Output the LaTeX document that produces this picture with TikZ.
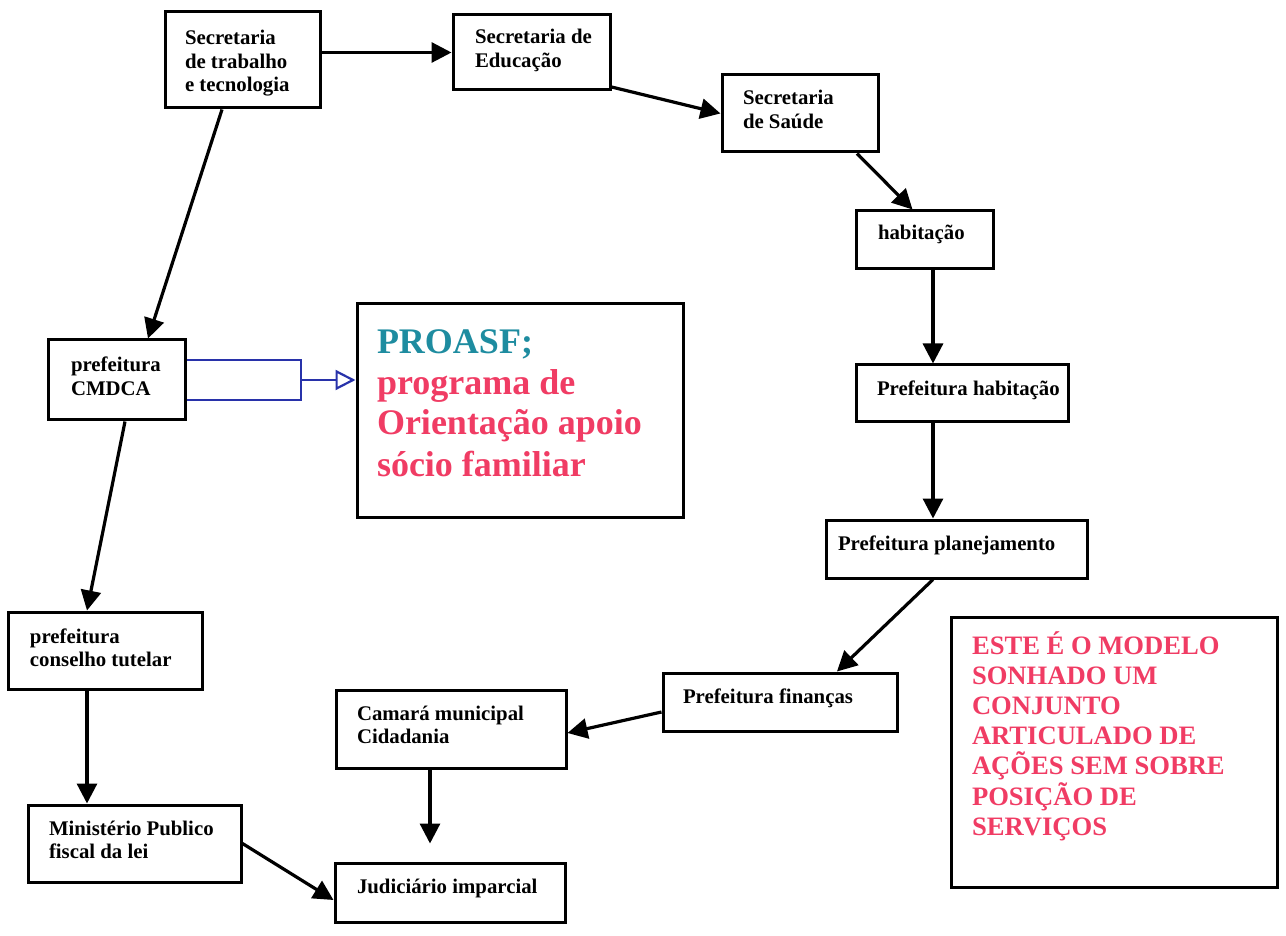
\documentclass[tikz,border=0pt]{standalone}
\usepackage{fontspec}
\setmainfont{Liberation Serif}
\usetikzlibrary{arrows.meta,calc}
\definecolor{proasfteal}{RGB}{30,140,160}
\definecolor{sonhored}{RGB}{240,60,100}
\definecolor{barblue}{RGB}{40,50,170}
% width, height, indent, first baseline, text
\newcommand{\boxtext}[5]{\parbox[c][#2][t]{#1}{\raggedright\leftskip=#3\relax\rule{0pt}{#4}#5}}

\begin{document}
\begin{tikzpicture}[x=0.5pt,y=-0.5pt,
	box/.style={draw, line width=1.5pt, inner sep=0pt, font=\fontsize{10.4}{11.75}\selectfont\bfseries},
	arr/.style={line width=1.6pt, -{Triangle[length=10pt,width=10pt]}},
	bluebar/.style={draw=barblue, line width=1.1pt}]

\useasboundingbox (0,0) rectangle (1286,936);

% left column
\node[box] (trab) at (242.5,60) {\boxtext{77.5pt}{48pt}{10pt}{16.5pt}{Secretaria\\de trabalho\\e tecnologia}};
\node[box] (cmdca) at (116.5,380) {\boxtext{68.5pt}{40pt}{11.5pt}{16pt}{prefeitura\\CMDCA}};
\node[box] (conselho) at (105,650.5) {\boxtext{97pt}{38.5pt}{11pt}{15.5pt}{prefeitura\\conselho tutelar}};
\node[box] (minist) at (134.5,843.5) {\boxtext{106.5pt}{38.5pt}{10.5pt}{15pt}{Ministério Publico\\fiscal da lei}};

% top and right
\node[box] (edu) at (531.5,52.5) {\boxtext{78.5pt}{37.5pt}{11pt}{14.5pt}{Secretaria de\\Educação}};
\node[box] (saude) at (800,113.5) {\boxtext{78pt}{38.5pt}{10.5pt}{15pt}{Secretaria\\de Saúde}};
\node[box] (habit) at (924.5,240) {\boxtext{68.5pt}{29pt}{11pt}{14.5pt}{habitação}};
\node[box] (prefhab) at (962,393.5) {\boxtext{106pt}{28.5pt}{10.5pt}{15pt}{Prefeitura habitação}};
\node[box] (plan) at (956.5,549) {\boxtext{130.5pt}{29pt}{6pt}{15pt}{Prefeitura planejamento}};
\node[box] (fin) at (780,702) {\boxtext{117pt}{29pt}{10pt}{15pt}{Prefeitura finanças}};

% bottom middle
\node[box] (camara) at (451,729) {\boxtext{115pt}{39pt}{10.5pt}{15pt}{Camará municipal\\Cidadania}};
\node[box] (jud) at (450,892.5) {\boxtext{115pt}{29.5pt}{11pt}{15pt}{Judiciário imparcial}};

% coloured boxes
\node[box, font=\fontsize{18}{20.5}\selectfont\bfseries] (proasf) at (520,410.5)
	{\boxtext{163pt}{106.5pt}{10pt}{24.5pt}{{\color{proasfteal}PROASF;}\\{\color{sonhored}programa de\\Orientação apoio\\sócio familiar}}};
\node[box, font=\fontsize{13.3}{15.1}\selectfont\bfseries] (este) at (1114,752)
	{\boxtext{163pt}{135pt}{10.5pt}{18.5pt}{\color{sonhored}ESTE É O MODELO\\SONHADO UM\\CONJUNTO\\ARTICULADO DE\\AÇÕES SEM SOBRE\\POSIÇÃO DE\\SERVIÇOS}};

% blue block arrow
\node[anchor=west, inner sep=0pt, minimum width=57pt, minimum height=19.5pt] (bar) at (cmdca.east) {};
\draw[bluebar] (bar.south west) -- (bar.south east) -- (bar.north east) -- (bar.north west);
\draw[bluebar, -{Triangle[open,length=10pt,width=10pt]}] (bar.east) -- (bar.east -| proasf.west);

% arrows
\draw[arr] (trab.east |- edu.west) -- (edu.west);
\draw[arr] ($(edu.south east)+(-2,-5)$) -- (saude.west);
\draw[arr] ($(saude.south)+(57,0)$) -- ($(habit.north)+(-12,0)$);
\coordinate (hx) at (933,0);
\draw[arr] (hx |- habit.south) -- (hx |- prefhab.north);
\draw[arr] (hx |- prefhab.south) -- (hx |- plan.north);
\draw[arr] ($(plan.south)+(-23.5,0)$) -- ($(fin.north)+(57,0)$);
\draw[arr] ($(fin.west)+(0,10)$) -- ($(camara.east)+(0,4)$);
\coordinate (cx) at (430,0);
\draw[arr, shorten >=9pt] (cx |- camara.south) -- (cx |- jud.north);
\draw[arr] ($(trab.south)+(-20.5,0)$) -- ($(cmdca.north)+(31.5,0)$);
\draw[arr] ($(cmdca.south)+(8.5,0)$) -- ($(conselho.north)+(-18,0)$);
\draw[arr] ($(conselho.south)+(-18,0)$) -- ($(minist.north)+(-47.5,0)$);
\draw[arr] (minist.east) -- ($(jud.west)+(0,7.5)$);
\end{tikzpicture}
\end{document}
